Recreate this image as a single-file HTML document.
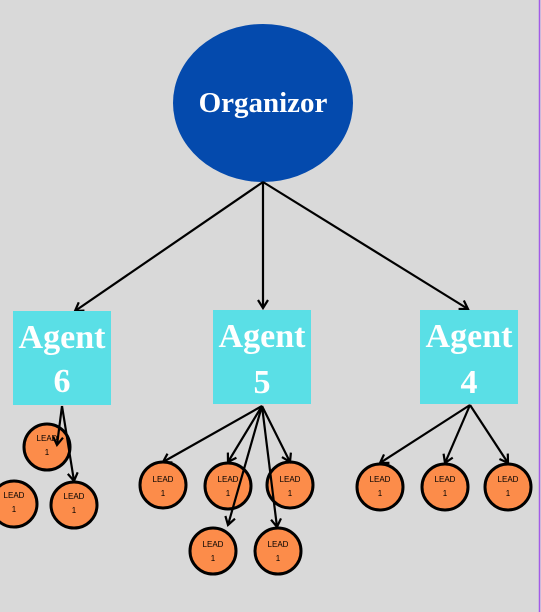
<!DOCTYPE html>
<html><head><style>
body{margin:0;background:#d9d9d9;}
svg{display:block;}
</style></head><body>
<svg width="541" height="612" xmlns="http://www.w3.org/2000/svg">
<defs><marker id="a" markerWidth="12" markerHeight="12" refX="9" refY="6" orient="auto" markerUnits="userSpaceOnUse"><path d="M1,1 L9,6 L1,11" fill="none" stroke="#000" stroke-width="2.2"/></marker></defs>
<rect width="541" height="612" fill="#d9d9d9"/>
<line x1="539.5" y1="0" x2="539.5" y2="612" stroke="#a35be8" stroke-width="1.5"/>
<ellipse cx="263" cy="103" rx="90" ry="79" fill="#044aad"/>
<text x="263" y="112" text-anchor="middle" font-family="Liberation Serif, serif" font-weight="bold" font-size="29" fill="#fff">Organizor</text>
<g stroke="#000" stroke-width="2.2" marker-end="url(#a)" fill="none">
<line x1="263" y1="182" x2="75" y2="311"/>
<line x1="263" y1="182" x2="263" y2="308"/>
<line x1="263" y1="182" x2="468" y2="309"/>
</g>
<g fill="#5adfe6">
<rect x="13" y="311" width="98" height="94"/>
<rect x="213" y="310" width="98" height="94"/>
<rect x="420" y="310" width="98" height="94"/>
</g>
<g font-family="Liberation Serif, serif" font-weight="bold" font-size="34" fill="#fff" text-anchor="middle">
<text x="62" y="348">Agent</text><text x="62" y="392">6</text>
<text x="262" y="347">Agent</text><text x="262" y="393">5</text>
<text x="469" y="347">Agent</text><text x="469" y="393">4</text>
</g>
<g fill="#fc8c4a" stroke="#000" stroke-width="3">
<circle cx="47" cy="447" r="23"/><circle cx="14" cy="504" r="23"/><circle cx="74" cy="505" r="23"/>
<circle cx="163" cy="485" r="23"/><circle cx="228" cy="486" r="23"/><circle cx="290" cy="485" r="23"/>
<circle cx="213" cy="551" r="23"/><circle cx="278" cy="551" r="23"/>
<circle cx="380" cy="487" r="23"/><circle cx="445" cy="487" r="23"/><circle cx="508" cy="487" r="23"/>
</g>
<g font-family="Liberation Sans, sans-serif" font-size="8" fill="#000" text-anchor="middle">
<text x="47" y="441">LEAD</text><text x="47" y="455">1</text>
<text x="14" y="498">LEAD</text><text x="14" y="512">1</text>
<text x="74" y="499">LEAD</text><text x="74" y="513">1</text>
<text x="163" y="482">LEAD</text><text x="163" y="496">1</text>
<text x="228" y="482">LEAD</text><text x="228" y="496">1</text>
<text x="290" y="482">LEAD</text><text x="290" y="496">1</text>
<text x="213" y="547">LEAD</text><text x="213" y="561">1</text>
<text x="278" y="547">LEAD</text><text x="278" y="561">1</text>
<text x="380" y="482">LEAD</text><text x="380" y="496">1</text>
<text x="445" y="482">LEAD</text><text x="445" y="496">1</text>
<text x="508" y="482">LEAD</text><text x="508" y="496">1</text>
</g>
<g stroke="#000" stroke-width="2.2" marker-end="url(#a)" fill="none">
<line x1="62" y1="406" x2="57" y2="445"/>
<line x1="62" y1="406" x2="74" y2="481"/>
<line x1="262" y1="406" x2="163" y2="462"/>
<line x1="262" y1="406" x2="228" y2="462"/>
<line x1="262" y1="406" x2="290" y2="462"/>
<line x1="262" y1="406" x2="228" y2="525"/>
<line x1="262" y1="406" x2="277" y2="527"/>
<line x1="470" y1="405" x2="380" y2="463"/>
<line x1="470" y1="405" x2="445" y2="463"/>
<line x1="470" y1="405" x2="508" y2="463"/>
</g>
</svg>
</body></html>
